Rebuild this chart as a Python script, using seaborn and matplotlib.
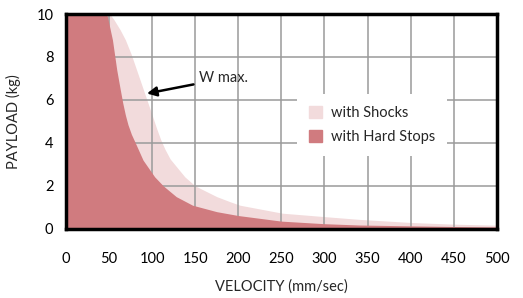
import matplotlib
matplotlib.use("Agg")
import matplotlib.pyplot as plt
import matplotlib.patches as mpatches
import seaborn as sns

# --- data ---
vel_hard = [0, 47.5, 54, 59, 63, 66, 69, 72, 76, 80, 89.5, 103, 113, 128, 147, 175,
            200, 250, 300, 340, 400, 450, 500]
payload_hard = [10, 10, 8.8, 7.4, 6.5, 5.85, 5.3, 4.85, 4.4, 4.05, 3.2, 2.42, 2.0, 1.5, 1.1, 0.8,
                 0.62, 0.36, 0.24, 0.18, 0.14, 0.11, 0.09]

vel_shocks = [0, 51, 56, 63, 69, 76, 82, 88, 94, 100, 105, 110, 115, 121, 138, 150, 175,
              190, 202, 251, 300, 341, 399, 449, 500]
payload_shocks = [10, 10, 9.72, 9.26, 8.8, 8.1, 7.4, 6.7, 6.0, 5.3, 4.7, 4.15, 3.7, 3.25, 2.42, 2.0, 1.5,
                  1.27, 1.1, 0.73, 0.57, 0.44, 0.3, 0.22, 0.17]

x_ticks = [0, 50, 100, 150, 200, 250, 300, 350, 400, 450, 500]
y_ticks = [0, 2, 4, 6, 8, 10]

dark_red = "#d07b7f"
light_red = "#f2dbdc"

sns.set_theme(style="white")
plt.rcParams["font.family"] = ["Lato", "DejaVu Sans"]

fig = plt.figure(figsize=(5.23, 2.98), dpi=100)
ax = fig.add_axes([0.126, 0.232, 0.824, 0.721])

ax.fill_between(vel_shocks, payload_shocks, 0, color=light_red, lw=0, zorder=0.3)
ax.fill_between(vel_hard, payload_hard, 0, color=dark_red, lw=0, zorder=1)

ax.set_axisbelow(True)
ax.grid(True, color="#9a9a9a", lw=1.1)
ax.set_xlim(0, 500)
ax.set_ylim(0, 10)
ax.set_xticks(x_ticks)
ax.set_yticks(y_ticks)
ax.tick_params(axis="both", length=0, labelsize=10.5, colors="black")
ax.tick_params(axis="x", pad=17)
ax.tick_params(axis="y", pad=9)

for sp in ax.spines.values():
    sp.set_color("black")
    sp.set_linewidth(2.5)
    sp.set_zorder(3)

ax.set_xlabel("VELOCITY (mm/sec)", fontsize=10.5, labelpad=9)
ax.set_ylabel("PAYLOAD (kg)", fontsize=10.5, labelpad=11)

ax.annotate("W max.", xy=(94, 6.3), xytext=(155, 7.0), fontsize=10.5,
            va="center", ha="left",
            arrowprops=dict(arrowstyle="-|>", color="black", lw=1.8,
                            mutation_scale=14, shrinkA=2, shrinkB=0))

handles = [mpatches.Patch(color=light_red, label="with Shocks"),
           mpatches.Patch(color=dark_red, label="with Hard Stops")]
leg = ax.legend(handles=handles, loc="upper left", bbox_to_anchor=(0.52, 0.66),
                frameon=True, fancybox=False, framealpha=1, edgecolor="white",
                fontsize=10.5, handlelength=0.9, handleheight=0.9,
                handletextpad=0.6, borderpad=0.8, labelspacing=0.7)
leg.get_frame().set_linewidth(0)
leg.set_zorder(4)

fig.savefig("out.png", dpi=100)
